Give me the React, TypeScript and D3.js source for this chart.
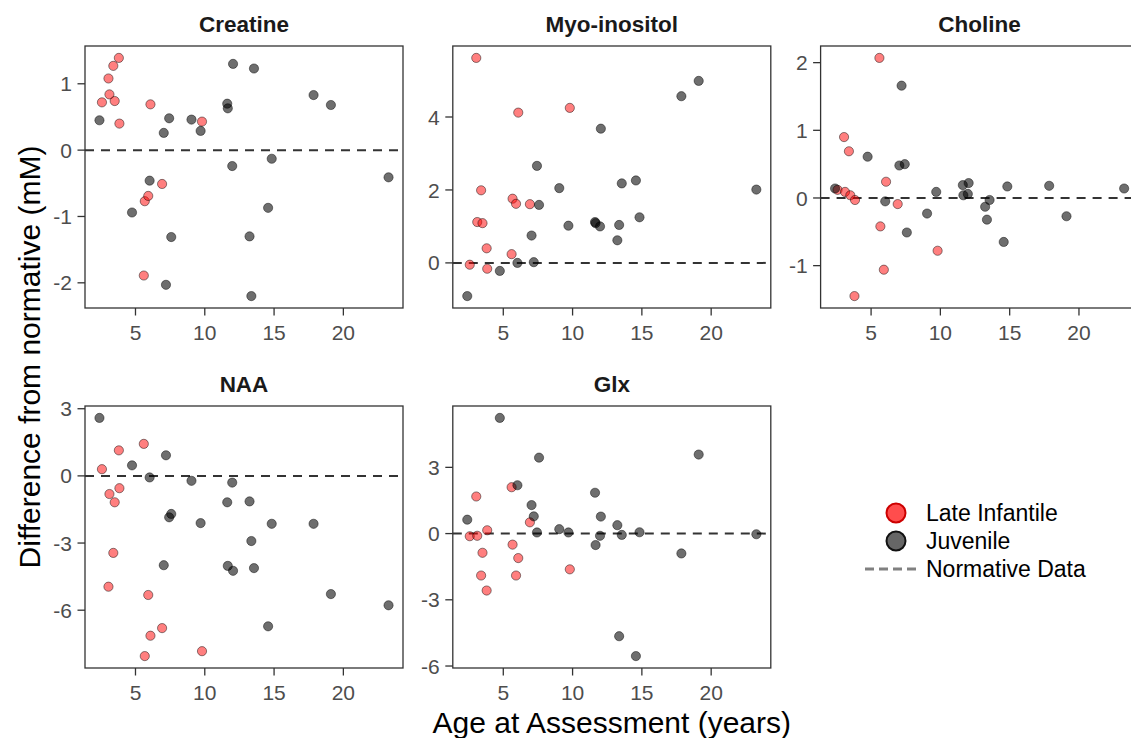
import React from "react";
import * as d3 from "d3";

// ---- data ----
const metabolites = ["Creatine", "Myo-inositol", "Choline", "NAA", "Glx"];
const groups = ["Late Infantile", "Juvenile"];

const lateInfantileAges = [2.58, 3.05, 3.12, 3.4, 3.5, 3.8, 3.84, 5.6, 5.67, 5.92, 6.08, 6.92, 9.8];
const juvenileAges = [2.4, 4.75, 6.02, 7.04, 7.2, 7.43, 7.58, 9.04, 9.7, 11.62, 11.66, 11.98, 12.04, 13.23, 13.36, 13.55, 14.57, 14.83, 17.85, 19.1, 23.26];

const creatineLI = [0.72, 1.08, 0.84, 1.27, 0.74, 1.39, 0.4, -1.89, -0.77, -0.69, 0.69, -0.51, 0.43];
const myoLI = [-0.05, 5.62, 1.12, 1.99, 1.09, 0.4, -0.16, 0.24, 1.76, 1.62, 4.12, 1.61, 4.25];
const cholineLI = [0.12, 0.9, 0.09, 0.69, 0.04, -1.45, -0.03, 2.07, -0.42, -1.06, 0.24, -0.09, -0.78];
const naaLI = [0.3, -4.95, -0.81, -3.44, -1.18, 1.14, -0.55, 1.43, -8.05, -5.32, -7.14, -6.8, -7.83];
const glxLI = [-0.12, 1.68, -0.1, -1.9, -0.87, -2.58, 0.15, 2.1, -0.5, -1.9, -1.11, 0.51, -1.62];

const creatineJuv = [0.45, -0.94, -0.46, 0.26, -2.03, 0.48, -1.31, 0.46, 0.29, 0.7, 0.63, -0.24, 1.3, -1.3, -2.2, 1.23, -0.87, -0.13, 0.83, 0.68, -0.41];
const myoJuv = [-0.91, -0.22, 0.0, 0.75, 0.02, 2.66, 1.59, 2.05, 1.02, 1.12, 1.09, 1.0, 3.68, 0.62, 1.04, 2.18, 2.26, 1.25, 4.57, 4.99, 2.01];
const cholineJuv = [0.14, 0.61, -0.05, 0.48, 1.66, 0.5, -0.51, -0.23, 0.09, 0.19, 0.04, 0.06, 0.22, -0.13, -0.32, -0.03, -0.65, 0.17, 0.18, -0.27, 0.14];
const naaJuv = [2.59, 0.47, -0.07, -3.99, 0.92, -1.85, -1.7, -0.22, -2.11, -1.18, -4.02, -0.3, -4.24, -1.14, -2.91, -4.12, -6.72, -2.14, -2.14, -5.28, -5.78];
const glxJuv = [0.63, 5.24, 2.19, 1.29, 0.78, 0.05, 3.44, 0.2, 0.05, 1.85, -0.52, -0.1, 0.77, 0.38, -4.65, -0.06, -5.55, 0.06, -0.9, 3.58, -0.03];

const liValues = [creatineLI, myoLI, cholineLI, naaLI, glxLI];
const juvValues = [creatineJuv, myoJuv, cholineJuv, naaJuv, glxJuv];

const xTicks = [5, 10, 15, 20];
const yTicks = [
  [-2, -1, 0, 1],
  [0, 2, 4],
  [-1, 0, 1, 2],
  [-6, -3, 0, 3],
  [-6, -3, 0, 3],
];

const xTitle = "Age at Assessment (years)";
const yTitle = "Difference from normative (mM)";
const normativeLabel = "Normative Data";

// ---- layout ----
const W = 1131;
const H = 738;
const FONT = "'Liberation Sans', Arial, Helvetica, sans-serif";
const panelW = 318;
const panelH = 262;
const colLeft = [85, 452.8, 820.6];
const rowTop = [46, 406];
const tickColor = "#4D4D4D";
const borderColor = "#333333";
const tickLen = 7.5;

function expand(lo: number, hi: number, f = 0.05): [number, number] {
  const r = hi - lo;
  return [lo - r * f, hi + r * f];
}

const allAges = [...lateInfantileAges, ...juvenileAges];
const xDomain = expand(d3.min(allAges)!, d3.max(allAges)!);

function Panel({ i }: { i: number }) {
  const col = i % 3;
  const row = Math.floor(i / 3);
  const left = colLeft[col];
  const top = rowTop[row];
  const vals = [...liValues[i], ...juvValues[i], 0];
  const yDomain = expand(d3.min(vals)!, d3.max(vals)!);
  const x = d3.scaleLinear().domain(xDomain).range([left, left + panelW]);
  const y = d3.scaleLinear().domain(yDomain).range([top + panelH, top]);
  const li = lateInfantileAges.map((a, k) => ({ a, v: liValues[i][k] }));
  const jv = juvenileAges.map((a, k) => ({ a, v: juvValues[i][k] }));
  return (
    <g>
      <text
        x={left + panelW / 2}
        y={top - 14}
        textAnchor="middle"
        fontFamily={FONT}
        fontWeight="bold"
        fontSize={22.5}
        fill="#1a1a1a"
      >
        {metabolites[i]}
      </text>
      <line
        x1={left}
        x2={left + panelW}
        y1={y(0)}
        y2={y(0)}
        stroke="#333"
        strokeWidth={2}
        strokeDasharray="9 7"
      />
      {li.map((d, k) => (
        <circle
          key={"l" + k}
          cx={x(d.a)}
          cy={y(d.v)}
          r={4.6}
          fill="rgb(255,0,0)"
          fillOpacity={0.5}
          stroke="#000"
          strokeOpacity={0.5}
          strokeWidth={0.9}
        />
      ))}
      {jv.map((d, k) => (
        <circle
          key={"j" + k}
          cx={x(d.a)}
          cy={y(d.v)}
          r={4.6}
          fill="#000"
          fillOpacity={0.57}
          stroke="#000"
          strokeOpacity={0.5}
          strokeWidth={0.9}
        />
      ))}
      <rect x={left} y={top} width={panelW} height={panelH} fill="none" stroke={borderColor} strokeWidth={1.3} />
      {xTicks.map((t) => (
        <g key={"x" + t}>
          <line x1={x(t)} x2={x(t)} y1={top + panelH} y2={top + panelH + tickLen} stroke={borderColor} strokeWidth={1.3} />
          <text
            x={x(t)}
            y={top + panelH + 32}
            textAnchor="middle"
            fontFamily={FONT}
            fontSize={21}
            fill={tickColor}
          >
            {t}
          </text>
        </g>
      ))}
      {yTicks[i].map((t) => (
        <g key={"y" + t}>
          <line x1={left - tickLen} x2={left} y1={y(t)} y2={y(t)} stroke={borderColor} strokeWidth={1.3} />
          <text
            x={left - 13}
            y={y(t)}
            dy="0.36em"
            textAnchor="end"
            fontFamily={FONT}
            fontSize={21}
            fill={tickColor}
          >
            {t}
          </text>
        </g>
      ))}
    </g>
  );
}

export default function App() {
  const legendCx = 896;
  const legendTx = 926;
  const legendY = [513, 541, 569];
  return (
    <svg width={W} height={H} style={{ display: "block", position: "absolute", left: 0, top: 0, background: "#fff" }}>
      <rect width={W} height={H} fill="#fff" />
      {metabolites.map((m, i) => (
        <Panel key={m} i={i} />
      ))}
      <text
        x={(colLeft[0] + colLeft[2] + panelW) / 2}
        y={733}
        textAnchor="middle"
        fontFamily={FONT}
        fontSize={30}
        fill="#000"
      >
        {xTitle}
      </text>
      <text
        transform={`translate(40, ${(rowTop[0] + rowTop[1] + panelH) / 2}) rotate(-90)`}
        textAnchor="middle"
        fontFamily={FONT}
        fontSize={30}
        fill="#000"
      >
        {yTitle}
      </text>
      {/* legend */}
      <circle cx={legendCx} cy={legendY[0]} r={9.5} fill="#ff4d4d" stroke="#cc0000" strokeWidth={2} />
      <circle cx={legendCx} cy={legendY[1]} r={9.5} fill="#666666" stroke="#111" strokeWidth={2} />
      <line x1={865} x2={918} y1={legendY[2]} y2={legendY[2]} stroke="#808080" strokeWidth={3} strokeDasharray="9 5" />
      {[groups[0], groups[1], normativeLabel].map((t, k) => (
        <text key={t} x={legendTx} y={legendY[k]} dy="0.36em" fontFamily={FONT} fontSize={23} fill="#000">
          {t}
        </text>
      ))}
    </svg>
  );
}
